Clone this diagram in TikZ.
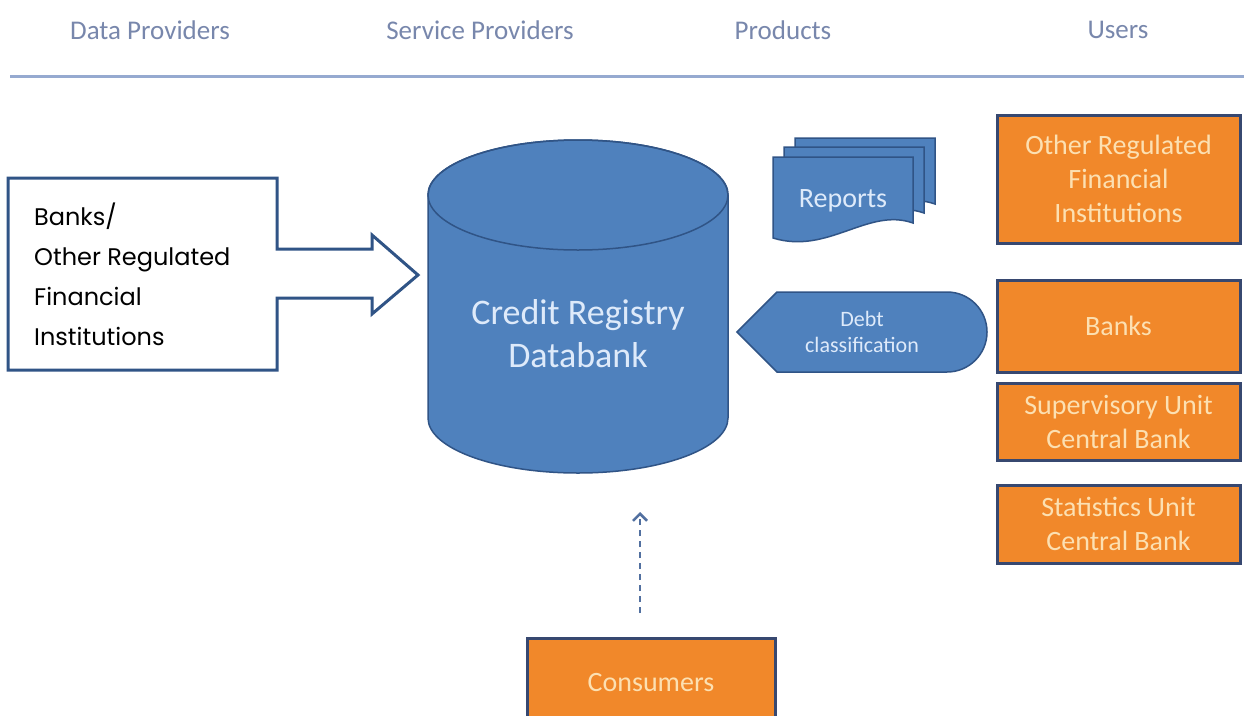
\documentclass[tikz,border=0pt]{standalone}
\usepackage{fontspec}
\setmainfont{Carlito}
\newfontfamily\geofont{Poppins}
\usetikzlibrary{arrows.meta}
\definecolor{hdr}{RGB}{120,135,172}
\definecolor{rulec}{RGB}{150,170,208}
\definecolor{bfill}{RGB}{79,129,189}
\definecolor{bstroke}{RGB}{48,84,134}
\definecolor{ofill}{RGB}{241,136,42}
\definecolor{otext}{RGB}{252,224,178}
\definecolor{oborder}{RGB}{55,72,112}
\definecolor{btext}{RGB}{222,234,250}
\definecolor{arrowc}{RGB}{82,112,160}
\tikzset{
  header/.style={text=hdr,font=\fontsize{27}{30}\selectfont,anchor=center},
  userbox/.style={draw=oborder,line width=3pt,fill=ofill,text=otext,align=center,
    font=\fontsize{28}{34}\selectfont,minimum width=243pt,inner sep=0pt},
  bluesh/.style={fill=bfill,draw=bstroke,line width=1.5pt},
  bluetext/.style={text=btext,align=center},
}
\newcommand{\docshape}[2]{%
  \path[bluesh] (#1,#2) -- (#1+140,#2) -- (#1+140,#2+66)
    .. controls (#1+95,#2+50) and (#1+55,#2+98) .. (#1,#2+81) -- cycle;}
\begin{document}
\begin{tikzpicture}[x=1pt,y=-1pt]
\clip (0,0) rectangle (1244,715);
\fill[white] (0,0) rectangle (1244,715);
% headers
\node[header] (hdp) at (150,30) {Data Providers};
\node[header] (hsp) at (480,30) {Service Providers};
\node[header] (hpr) at (783,30) {Products};
\node[header] (hus) at (1118,30) {Users};
\coordinate (rl) at (10,76);
\coordinate (rr) at (1244,76);
\draw[rulec,line width=3pt] (rl) -- (rr);
% left arrow box
\draw[fill=white,draw=bstroke,line width=3pt,line join=miter]
  (8,178) -- (277,178) -- (277,249) -- (372,249) -- (372,235) -- (418,275)
  -- (372,314) -- (372,298) -- (277,298) -- (277,370) -- (8,370) -- cycle;
\node[anchor=north west,align=left,inner sep=0pt,
  font=\geofont\fontsize{24}{40}\selectfont] (prov) at (34,203)
  {Banks/\\Other Regulated\\Financial\\Institutions};
% cylinder
\path[bluesh] (428,195) -- (428,418) arc[start angle=180,end angle=0,x radius=150,y radius=55]
  -- (728,195) arc[start angle=0,end angle=-180,x radius=150,y radius=55] -- cycle;
\draw[bstroke,line width=1.5pt] (578,195) ellipse[x radius=150,y radius=55];
\node[bluetext,font=\fontsize{36}{43}\selectfont] (db) at (578,334) {Credit Registry\\Databank};
% reports
\docshape{795}{138}
\docshape{784}{147}
\docshape{773}{157}
\node[bluetext,font=\fontsize{28}{30}\selectfont] (rep) at (843,201) {Reports};
% debt classification
\path[bluesh] (737,332) -- (777,292) -- (947,292) arc[start angle=-90,end angle=90,radius=40]
  -- (777,372) -- cycle;
\node[bluetext,font=\fontsize{22}{26}\selectfont] (debt) at (862,332) {Debt\\classification};
% users
\node[userbox,minimum height=128pt] (u1) at (1118.5,179) {Other Regulated\\Financial\\Institutions};
\node[userbox,minimum height=92pt] (u2) at (1118.5,326) {Banks};
\node[userbox,minimum height=77pt] (u3) at (1118.5,421.5) {Supervisory Unit\\Central Bank};
\node[userbox,minimum height=78pt] (u4) at (1118.5,524) {Statistics Unit\\Central Bank};
% consumers
\node[userbox,minimum width=248pt,minimum height=90pt,font=\fontsize{28}{30}\selectfont] (cons) at (651,683) {Consumers};
\coordinate (ca) at (640,613);
\coordinate (cb) at (640,512);
\draw[arrowc,line width=2.5pt,dash pattern=on 6pt off 5pt,
  -{Straight Barb[length=7pt,width=14pt,line width=2.5pt]}] (ca) -- (cb);
\end{tikzpicture}
\end{document}
